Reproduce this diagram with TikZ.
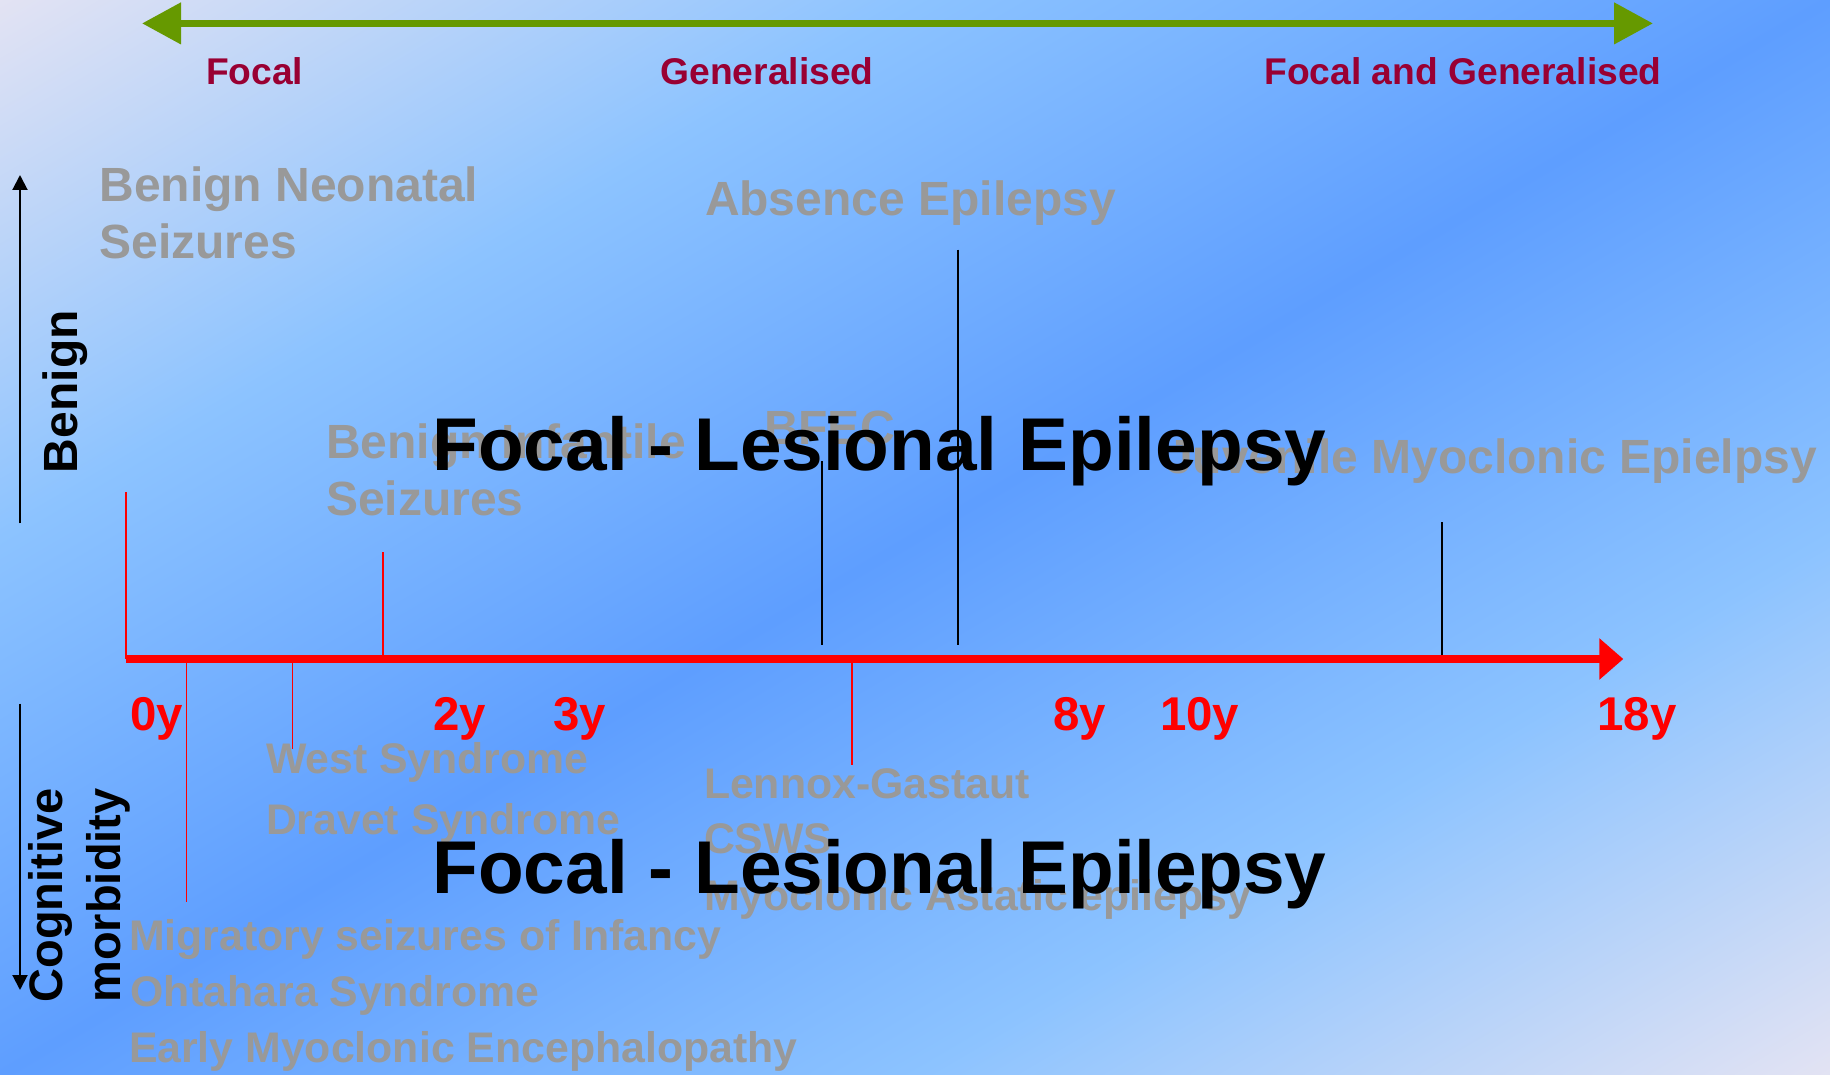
\documentclass[tikz,border=0pt]{standalone}
\usepackage{fontspec}
\setmainfont{Liberation Sans}
\usetikzlibrary{arrows.meta}
\definecolor{lav}{HTML}{E3E3F3}
\definecolor{lblue}{HTML}{8CC3FF}
\definecolor{dblue}{HTML}{5E9EFF}
\definecolor{graytxt}{HTML}{999999}
\definecolor{darkred}{HTML}{990033}
\definecolor{grn}{HTML}{669900}
\definecolor{axred}{HTML}{FF0000}
\pgfdeclarehorizontalshading{bgshade}{100bp}{color(0bp)=(lav); color(25bp)=(lav); color(37.5bp)=(lblue); color(50bp)=(dblue); color(62.5bp)=(lblue); color(75bp)=(lav); color(100bp)=(lav)}
\tikzset{
  txtbase/.style={inner sep=0pt, outer sep=0pt, anchor=base west},
  graybig/.style={txtbase, text=graytxt, font=\fontsize{24pt}{28pt}\selectfont\bfseries},
  graysmall/.style={txtbase, text=graytxt, font=\fontsize{21.4pt}{25pt}\selectfont\bfseries},
  catlabel/.style={txtbase, text=darkred, font=\fontsize{18.6pt}{22pt}\selectfont\bfseries},
  agelabel/.style={txtbase, text=axred, font=\fontsize{23.7pt}{27pt}\selectfont\bfseries},
  titletxt/.style={txtbase, text=black, font=\fontsize{37.4pt}{42pt}\selectfont\bfseries},
  sidelabel/.style={txtbase, rotate=90, text=black, font=\fontsize{23.5pt}{27pt}\selectfont\bfseries},
  redtick/.style={draw=axred, line width=0.75pt},
  blacktick/.style={draw=black, line width=0.9pt},
  sidearrow/.style={draw=black, line width=1pt, -{Triangle[length=7.5pt,width=7.5pt]}},
}
\begin{document}
\begin{tikzpicture}[x=0.5pt,y=-0.5pt]
\useasboundingbox (0,0) rectangle (1830,1075);
% background gradient
\begin{scope}
  \clip (0,0) rectangle (1830,1075);
  \begin{scope}[transform canvas={shift={(457.5pt,-268.75pt)}, xscale=9.15, yscale=5.375, rotate=-45}]
    \shade[shading=bgshade] (-70.8pt,-70.8pt) rectangle (70.8pt,70.8pt);
  \end{scope}
\end{scope}

% top green double arrow
\coordinate (gL) at (142,23.4);
\coordinate (gR) at (1653,23.4);
\draw[grn, line width=3.8pt, {Triangle[length=19.5pt,width=20pt]}-{Triangle[length=19.5pt,width=20pt]}] (gL) -- (gR);

% category labels
\node[catlabel] (focal) at (206,85) {Focal};
\node[catlabel] (gen) at (660.5,85) {Generalised};
\node[catlabel] (fag) at (1264.5,85) {Focal and Generalised};

% side arrows
\coordinate (bnS) at (20,523.4);
\coordinate (bnE) at (20,175);
\draw[sidearrow] (bnS) -- (bnE);
\coordinate (cgS) at (20,703.7);
\coordinate (cgE) at (20,990);
\draw[sidearrow] (cgS) -- (cgE);
\node[sidelabel, font=\fontsize{24pt}{27pt}\selectfont\bfseries] (benign) at (77.5,473) {Benign};
\node[sidelabel] (cogn) at (62.7,1002.5) {Cognitive};
\node[sidelabel] (morb) at (120,1002.5) {morbidity};

% ticks
\coordinate (r1a) at (126,492);    \coordinate (r1b) at (126,659);
\coordinate (r2a) at (383,552);    \coordinate (r2b) at (383,659);
\coordinate (r3a) at (186.3,663);  \coordinate (r3b) at (186.3,901.7);
\coordinate (r4a) at (292.7,663);  \coordinate (r4b) at (292.7,748.5);
\coordinate (r5a) at (852,663);    \coordinate (r5b) at (852,765);
\draw[redtick] (r1a) -- (r1b);
\draw[redtick] (r2a) -- (r2b);
\draw[redtick] (r3a) -- (r3b);
\draw[redtick] (r4a) -- (r4b);
\draw[redtick] (r5a) -- (r5b);
\coordinate (k1a) at (821.6,461.4);  \coordinate (k1b) at (821.6,644.5);
\coordinate (k2a) at (957.6,249.7);  \coordinate (k2b) at (957.6,644.5);
\coordinate (k3a) at (1441.6,522.4); \coordinate (k3b) at (1441.6,659);
\draw[blacktick] (k1a) -- (k1b);
\draw[blacktick] (k2a) -- (k2b);
\draw[blacktick] (k3a) -- (k3b);

% red time axis
\coordinate (ax0) at (125.5,659);
\coordinate (axE) at (1623.3,659);
\draw[axred, line width=4pt, -{Triangle[length=12pt,width=20pt]}] (ax0) -- (axE);

% age labels
\node[agelabel] (y0) at (130.5,730) {0y};
\node[agelabel] (y2) at (433,730) {2y};
\node[agelabel] (y3) at (553.5,730) {3y};
\node[agelabel] (y8) at (1053,730) {8y};
\node[agelabel] (y10) at (1160,730) {10y};
\node[agelabel] (y18) at (1597.5,730) {18y};

% benign syndromes (upper)
\node[graybig] (bn1) at (99.5,201.4) {Benign Neonatal};
\node[graybig] (bn2) at (99.5,258) {Seizures};
\node[graybig] (abs) at (705,216) {Absence Epilepsy};
\node[graybig] (bi1) at (326,458) {Benign Infantile};
\node[graybig] (bi2) at (326,515) {Seizures};
\node[graybig] (bfec) at (764,444) {BFEC};
\node[graybig, anchor=base east] (jme) at (1817,473.5) {Juvenile Myoclonic Epielpsy};

% severe syndromes (lower)
\node[graysmall] (west) at (266,773.6) {West Syndrome};
\node[graysmall] (dravet) at (266,834.6) {Dravet Syndrome};
\node[graysmall] (lg) at (704,798.4) {Lennox-Gastaut};
\node[graysmall] (csws) at (704,853.5) {CSWS};
\node[graysmall] (mae) at (704,910) {Myoclonic Astatic epilepsy};
\node[graysmall] (mig) at (129,950) {Migratory seizures of Infancy};
\node[graysmall] (oht) at (130,1006.7) {Ohtahara Syndrome};
\node[graysmall] (eme) at (129,1062) {Early Myoclonic Encephalopathy};

% titles
\node[titletxt] (title1) at (432.5,470) {Focal - Lesional Epilepsy};
\node[titletxt] (title2) at (432.5,893) {Focal - Lesional Epilepsy};
\end{tikzpicture}
\end{document}
